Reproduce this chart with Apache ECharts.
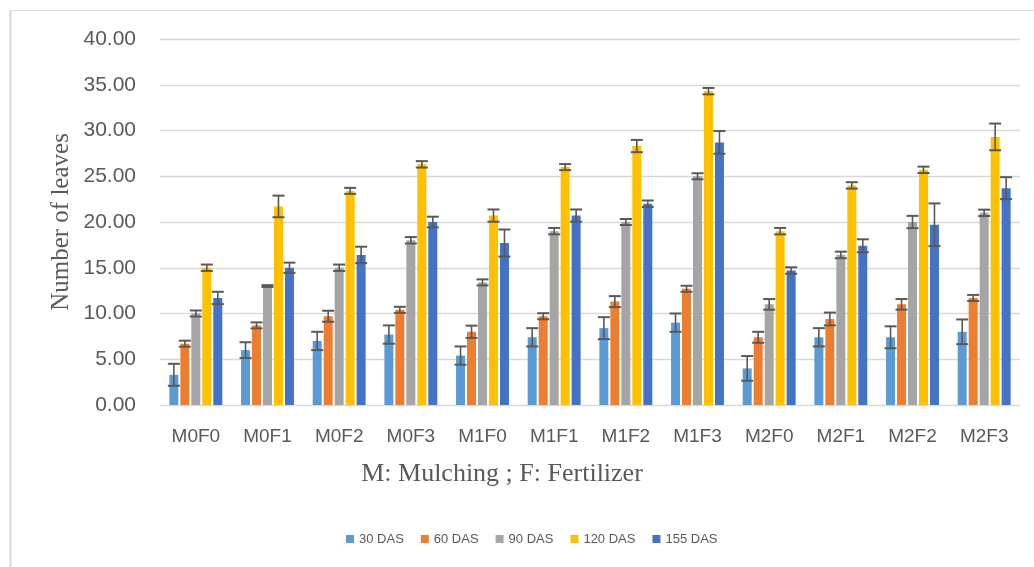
<!DOCTYPE html>
<html>
<head>
<meta charset="utf-8">
<script src="https://cdn.jsdelivr.net/npm/echarts@6/dist/echarts.min.js"></script>
<style>html,body{margin:0;padding:0;background:#fff}#c{width:1034px;height:567px}</style>
</head>
<body>
<div id="c"></div>
<script>
const categories = ['M0F0','M0F1','M0F2','M0F3','M1F0','M1F1','M1F2','M1F3','M2F0','M2F1','M2F2','M2F3'];
const seriesNames = ['30 DAS','60 DAS','90 DAS','120 DAS','155 DAS'];
const das30  = [3.3, 6.0, 7.0, 7.7, 5.4, 7.4, 8.4, 9.0, 4.0, 7.4, 7.4, 8.0];
const das60  = [6.7, 8.7, 9.7, 10.4, 8.0, 9.7, 11.3, 12.7, 7.4, 9.4, 11.0, 11.7];
const das90  = [10.0, 13.0, 15.0, 18.0, 13.4, 19.0, 20.0, 25.0, 11.0, 16.4, 20.0, 21.0];
const das120 = [15.0, 21.7, 23.4, 26.3, 20.7, 26.0, 28.3, 34.3, 19.0, 24.0, 25.7, 29.3];
const das155 = [11.7, 15.0, 16.4, 20.0, 17.7, 20.7, 22.0, 28.7, 14.7, 17.4, 19.7, 23.7];
const err30  = [1.2, 0.86, 1.0, 1.0, 1.0, 1.0, 1.2, 1.0, 1.35, 1.0, 1.2, 1.35];
const err60  = [0.33, 0.33, 0.6, 0.33, 0.67, 0.33, 0.6, 0.33, 0.6, 0.7, 0.58, 0.33];
const err90  = [0.33, 0.1, 0.35, 0.35, 0.33, 0.35, 0.33, 0.33, 0.58, 0.36, 0.67, 0.35];
const err120 = [0.35, 1.18, 0.33, 0.35, 0.67, 0.33, 0.67, 0.35, 0.35, 0.35, 0.35, 1.46];
const err155 = [0.67, 0.56, 0.9, 0.58, 1.48, 0.67, 0.35, 1.24, 0.35, 0.71, 2.33, 1.2];
const yTicks = [0, 5, 10, 15, 20, 25, 30, 35, 40];

const values = [das30, das60, das90, das120, das155];
const errors = [err30, err60, err90, err120, err155];
const colors = ['#5B9BD5', '#ED7D31', '#A5A5A5', '#FFC000', '#4472C4'];

const BAR_W = 9, BAR_GAP = 0.22;
const step = BAR_W * (1 + BAR_GAP);

const series = [];
values.forEach((vals, i) => {
  series.push({
    name: seriesNames[i], type: 'bar', data: vals,
    barWidth: BAR_W, barGap: (BAR_GAP * 100) + '%',
    itemStyle: { color: colors[i] }, z: 2
  });
});
values.forEach((vals, i) => {
  const data = vals.map((v, k) => [k, v, errors[i][k]]);
  series.push({
    type: 'custom', name: 'err' + i, data: data, z: 5, silent: true,
    renderItem: function (params, api) {
      const k = api.value(0), v = api.value(1), e = api.value(2);
      const hi = api.coord([k, v + e]);
      const lo = api.coord([k, v - e]);
      const x = hi[0] + (i - 2) * step;
      const cap = 6;
      const st = { stroke: '#595959', lineWidth: 1.6 };
      return { type: 'group', children: [
        { type: 'line', shape: { x1: x, y1: hi[1], x2: x, y2: lo[1] }, style: st },
        { type: 'line', shape: { x1: x - cap, y1: hi[1], x2: x + cap, y2: hi[1] }, style: { stroke: '#595959', lineWidth: 2 } },
        { type: 'line', shape: { x1: x - cap, y1: lo[1], x2: x + cap, y2: lo[1] }, style: { stroke: '#595959', lineWidth: 2 } }
      ]};
    }
  });
});

const chart = echarts.init(document.getElementById('c'), null, { renderer: 'canvas' });
chart.setOption({
  animation: false,
  backgroundColor: '#fff',
  grid: { left: 160, right: 14, top: 39, bottom: 162, containLabel: false },
  legend: {
    data: seriesNames, left: 346, top: 531, padding: 0, itemWidth: 8, itemHeight: 8, itemGap: 17,
    icon: 'rect',
    textStyle: { fontFamily: 'Liberation Sans', fontSize: 13, color: '#595959', lineHeight: 16 }
  },
  xAxis: {
    type: 'category', data: categories,
    axisLine: { show: true, lineStyle: { color: '#D9D9D9', width: 1 } },
    axisTick: { show: false },
    axisLabel: { fontFamily: 'Liberation Sans', fontSize: 19, color: '#595959', margin: 22 }
  },
  yAxis: {
    type: 'value', min: yTicks[0], max: yTicks[yTicks.length - 1], interval: yTicks[1] - yTicks[0],
    axisLine: { show: false }, axisTick: { show: false },
    splitLine: { lineStyle: { color: '#D9D9D9', width: 1.3 } },
    axisLabel: { fontFamily: 'Liberation Sans', fontSize: 21, color: '#595959', margin: 24,
      formatter: v => v.toFixed(2) }
  },
  graphic: [
    { type: 'line', shape: { x1: 10, y1: 10.5, x2: 1034, y2: 10.5 }, style: { stroke: '#D9D9D9', lineWidth: 1 } },
    { type: 'line', shape: { x1: 10.5, y1: 10, x2: 10.5, y2: 567 }, style: { stroke: '#D9D9D9', lineWidth: 2 } },
    { type: 'text', x: 61, y: 222, rotation: Math.PI / 2,
      style: { text: 'Number of leaves', font: '25px "Liberation Serif"', fill: '#595959', align: 'center', verticalAlign: 'middle' } },
    { type: 'text', x: 502, y: 474,
      style: { text: 'M: Mulching ; F: Fertilizer', font: '26px "Liberation Serif"', fill: '#595959', align: 'center', verticalAlign: 'middle' } }
  ],
  series: series
});
</script>
</body>
</html>
